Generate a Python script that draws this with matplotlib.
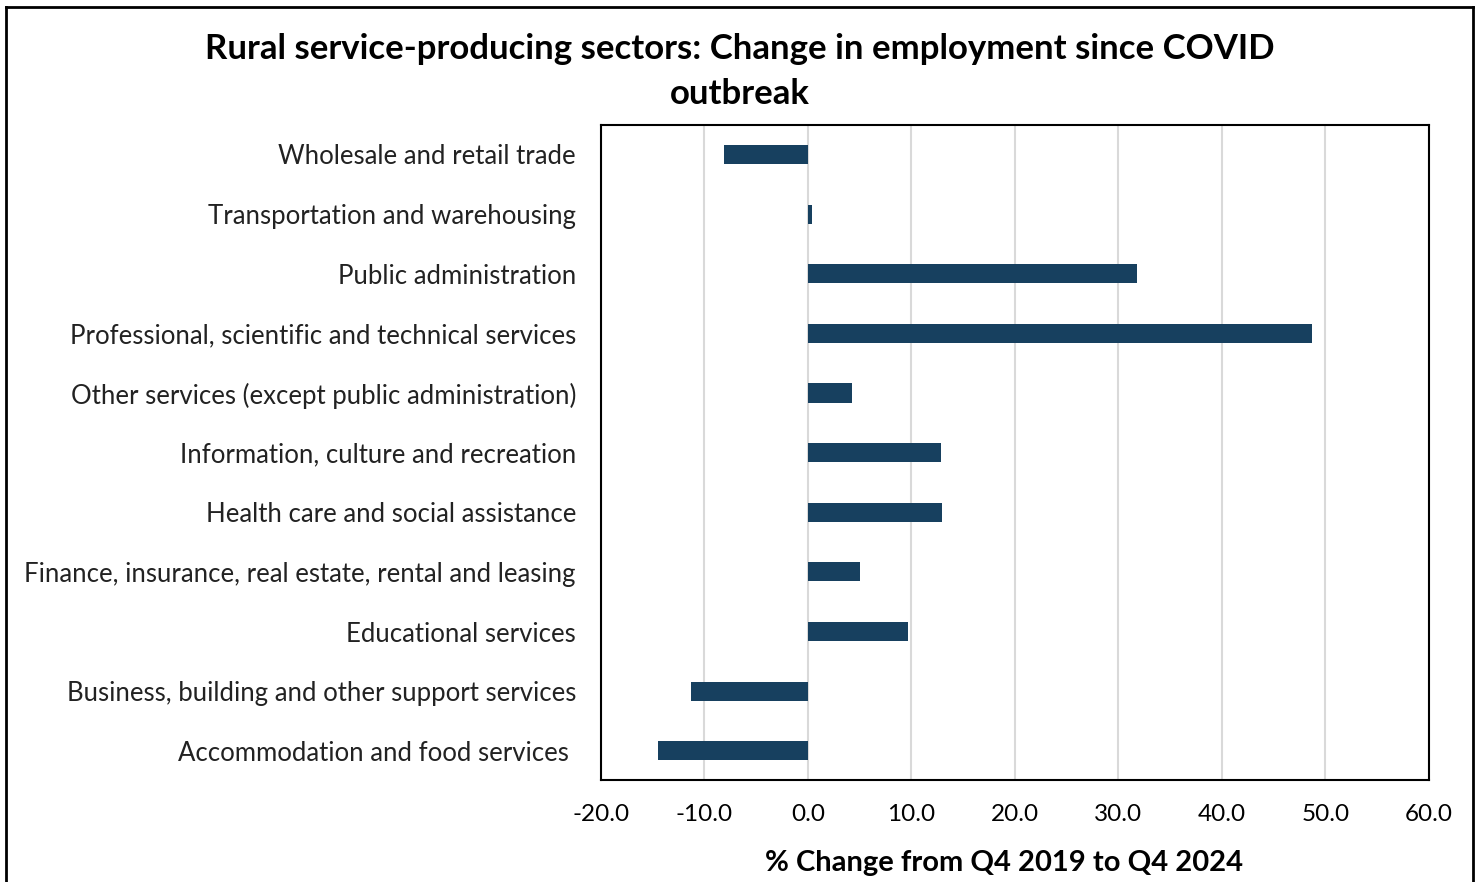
"""Rural service-producing sectors: change in employment since COVID outbreak."""
import matplotlib
matplotlib.use("Agg")
import matplotlib.pyplot as plt
from matplotlib.lines import Line2D

SECTORS = [
    "Accommodation and food services ",
    "Business, building and other support services",
    "Educational services",
    "Finance, insurance, real estate, rental and leasing",
    "Health care and social assistance",
    "Information, culture and recreation",
    "Other services (except public administration)",
    "Professional, scientific and technical services",
    "Public administration",
    "Transportation and warehousing",
    "Wholesale and retail trade",
]
CHANGE = [-14.5, -11.3, 9.7, 5.0, 13.0, 12.9, 4.3, 48.7, 31.8, 0.4, -8.1]
XTICKS = [-20, -10, 0, 10, 20, 30, 40, 50, 60]

BAR = "#17405F"
FONT = ["Lato", "DejaVu Sans"]

plt.rcParams["font.family"] = FONT

fig = plt.figure(figsize=(14.8, 8.82), dpi=100)
ax = fig.add_axes([0.406, 0.1156, 0.5595, 0.7424])

ax.barh(range(len(SECTORS)), CHANGE, height=0.32, color=BAR, zorder=3)

ax.set_xlim(-20, 60)
ax.set_ylim(-0.49, len(SECTORS) - 0.51)
ax.set_xticks(XTICKS)
ax.set_xticklabels([f"{v:.1f}" for v in XTICKS], fontsize=17.5)
ax.set_yticks(range(len(SECTORS)))
ax.set_yticklabels(SECTORS, fontsize=18.5, color="#222222")
ax.tick_params(axis="both", length=0)
ax.tick_params(axis="x", pad=17)
ax.tick_params(axis="y", pad=18)
ax.grid(axis="x", color="#D9D9D9", linewidth=1.5, zorder=0)
for s in ax.spines.values():
    s.set_linewidth(1.5)
    s.set_color("black")

ax.set_xlabel("% Change from Q4 2019 to Q4 2024", fontsize=21,
              fontweight="bold", labelpad=18)
ax.xaxis.label.set_x(0.487)

fig.text(0.5, 0.945, "Rural service-producing sectors: Change in employment since COVID",
         ha="center", va="center", fontsize=25, fontweight="bold")
fig.text(0.5, 0.893, "outbreak", ha="center", va="center",
         fontsize=25, fontweight="bold")

# outer frame (top, left, right)
for xs, ys in [([0.004, 0.995], [0.992, 0.992]),
               ([0.004, 0.004], [0.0, 0.992]),
               ([0.995, 0.995], [0.0, 0.992])]:
    fig.add_artist(Line2D(xs, ys, color="black", linewidth=2,
                          transform=fig.transFigure))

fig.savefig("out.png", dpi=100)
